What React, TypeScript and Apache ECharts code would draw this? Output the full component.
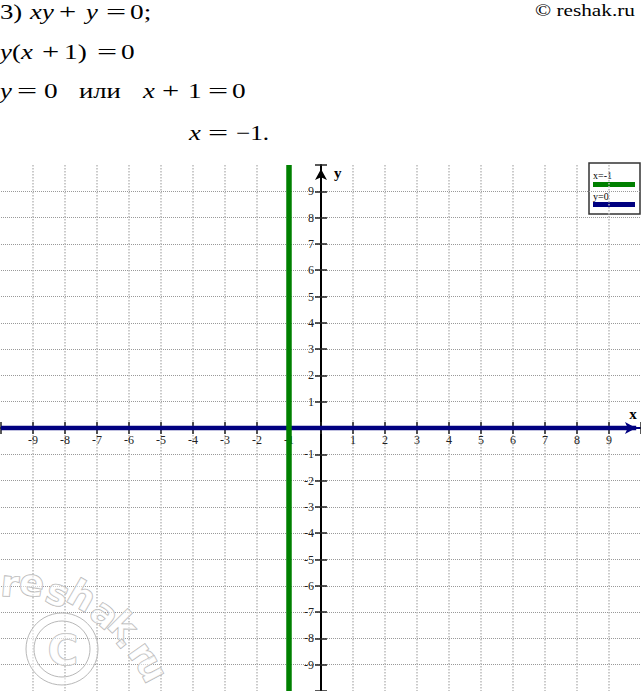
import React, { useEffect, useRef } from 'react';
import * as echarts from 'echarts';

const xLabelValues = [-9, -8, -7, -6, -5, -4, -3, -2, -1, 1, 2, 3, 4, 5, 6, 7, 8, 9];
const yLabelValues = [-9, -8, -7, -6, -5, -4, -3, -2, -1, 1, 2, 3, 4, 5, 6, 7, 8, 9];
const axisMin = -10;
const axisMax = 10;
const lineNames = ['x=-1', 'y=0'];
const lineColors = ['#008000', '#000080'];
const verticalLineX = -1;
const horizontalLineY = 0;
const verticalLinePoints = [[verticalLineX, -10], [verticalLineX, 10]];
const horizontalLinePoints = [[-10, horizontalLineY], [9.85, horizontalLineY]];

// math text: [text, x, centerY, italic, scaleX]
const mathSegments: [string, number, number, boolean, number][] = [
  ['3)', 0, 12, false, 1.27], ['x', 30, 12, true, 1.27], ['y', 42, 12, true, 1.27], ['+', 59, 12, false, 1.45],
  ['y', 86, 12, true, 1.27], ['=', 106, 12, false, 1.7], ['0;', 130, 12, false, 1.3],
  ['y', 0, 52, true, 1.27], ['(', 12, 52, false, 1.27], ['x', 21, 52, true, 1.27], ['+', 42, 52, false, 1.45],
  ['1)', 64, 52, false, 1.3], ['=', 97, 52, false, 1.7], ['0', 121, 52, false, 1.3],
  ['y', 0, 91, true, 1.27], ['=', 17, 91, false, 1.7], ['0', 44, 91, false, 1.3], ['или', 79, 91, false, 1.27],
  ['x', 143, 91, true, 1.27], ['+', 162, 91, false, 1.45], ['1', 188, 91, false, 1.3], ['=', 208, 91, false, 1.7], ['0', 232, 91, false, 1.3],
  ['x', 189, 133, true, 1.27], ['=', 208, 133, false, 1.7], ['−1.', 236, 133, false, 1.2],
];

// watermark letters: [char, cx, cy, rotationDeg]
const watermarkLetters: [string, number, number, number][] = [
  ['r', 10, 584, 5], ['e', 32, 583, 10], ['s', 58, 593, 20], ['h', 82, 596, 30], ['a', 105, 614, 40],
  ['k', 123, 626, 45], ['.', 128, 638, 50], ['r', 142, 653, 55], ['u', 152, 668, 62],
];

const SERIF = 'Liberation Serif';

export default function App() {
  const ref = useRef<HTMLDivElement>(null);
  useEffect(() => {
    if (!ref.current) return;
    const chart = echarts.init(ref.current, undefined, { renderer: 'svg' });

    const graphics: any[] = [];
    mathSegments.forEach(([t, x, y, it, sx]) => {
      const style: any = {
        text: t, fontFamily: SERIF, fontSize: 21,
        fill: '#000', textAlign: 'left', textVerticalAlign: 'middle',
      };
      if (it) style.fontStyle = 'italic';
      graphics.push({ type: 'text', x, y, scaleX: sx, silent: true, style });
    });
    graphics.push({
      type: 'text', x: 535, y: 10, scaleX: 1.25, silent: true,
      style: { text: '© reshak.ru', fontFamily: SERIF, fontSize: 17, fill: '#000', textAlign: 'left', textVerticalAlign: 'middle' },
    });
    // watermark
    watermarkLetters.forEach(([c, x, y, r]) => {
      graphics.push({
        type: 'text', x, y, rotation: (-r * Math.PI) / 180, silent: true, z: 1,
        style: {
          text: c, fontFamily: 'DejaVu Sans', fontWeight: 'bold', fontSize: 37,
          fill: 'rgba(255,255,255,0.55)', stroke: '#b0b0b0', lineWidth: 1,
          textAlign: 'center', textVerticalAlign: 'middle',
        },
      });
    });
    graphics.push({
      type: 'ring', shape: { cx: 62, cy: 649, r: 36, r0: 28 }, silent: true, z: 1,
      style: { fill: 'rgba(255,255,255,0.5)', stroke: '#b8b8b8', lineWidth: 1 },
    });
    graphics.push({
      type: 'text', x: 63, y: 650, silent: true, z: 1,
      style: {
        text: 'C', fontFamily: 'DejaVu Sans', fontWeight: 'bold', fontSize: 42,
        fill: 'rgba(255,255,255,0.5)', stroke: '#b8b8b8', lineWidth: 1, textAlign: 'center', textVerticalAlign: 'middle',
      },
    });
    // legend box
    graphics.push({
      type: 'group', x: 589, y: 163, z: 100,
      children: [
        { type: 'rect', shape: { x: 0, y: 0, width: 51, height: 51 }, style: { fill: '#fff', stroke: '#333', lineWidth: 1.5 } },
        { type: 'text', x: 4, y: 12, style: { text: lineNames[0], fontFamily: SERIF, fontSize: 10, fill: '#000', textVerticalAlign: 'middle' } },
        { type: 'rect', shape: { x: 4, y: 19, width: 42, height: 5 }, style: { fill: lineColors[0] } },
        { type: 'text', x: 4, y: 33, style: { text: lineNames[1], fontFamily: SERIF, fontSize: 10, fill: '#000', textVerticalAlign: 'middle' } },
        { type: 'rect', shape: { x: 4, y: 39, width: 42, height: 5 }, style: { fill: lineColors[1] } },
      ],
    });

    const labelStyle = { fontFamily: SERIF, fontSize: 12, color: '#222' };
    const makeOption = (xMargin: number, yMargin: number): any => ({
      animation: false,
      backgroundColor: '#ffffff',
      grid: { left: 1, right: 0, top: 165, bottom: 0, containLabel: false, outerBoundsMode: 'none' },
      xAxis: [
        {
          type: 'value', position: 'bottom', min: axisMin, max: axisMax, interval: 1,
          name: 'x', nameLocation: 'end', nameGap: -8,
          nameTextStyle: { fontFamily: SERIF, fontWeight: 'bold', fontSize: 15, color: '#000', align: 'center', verticalAlign: 'bottom', padding: [0, 0, 7, 0] },
          axisLine: { show: true, onZero: true, onZeroAxisIndex: 0, symbol: ['none', 'arrow'], symbolSize: [9, 11], symbolOffset: [0, -5], lineStyle: { color: '#000080', width: 2 } },
          axisTick: { show: true, inside: false, length: 6, lineStyle: { color: '#222', width: 1.5 } },
          axisLabel: { ...labelStyle, margin: xMargin, formatter: (v: number) => (xLabelValues.includes(v) ? String(v) : '') },
          splitLine: { show: true, showMinLine: false, showMaxLine: false, lineStyle: { type: 'dotted', color: '#bbbbbb', width: 1.5 } },
        },
        {
          type: 'value', position: 'top', min: axisMin, max: axisMax, interval: 1,
          axisLine: { show: true, onZero: true, onZeroAxisIndex: 0, lineStyle: { color: 'rgba(0,0,0,0)', width: 0 } },
          axisTick: { show: true, inside: false, length: 6, lineStyle: { color: '#222', width: 1.5 } },
          axisLabel: { show: false },
          splitLine: { show: false },
        },
      ],
      yAxis: [
        {
          type: 'value', position: 'left', min: axisMin, max: axisMax, interval: 1,
          name: 'y', nameLocation: 'end', nameGap: -8,
          nameTextStyle: { fontFamily: SERIF, fontWeight: 'bold', fontSize: 15, color: '#000', align: 'left', verticalAlign: 'middle', padding: [0, 0, 0, 13] },
          axisLine: { show: true, onZero: true, onZeroAxisIndex: 0, symbol: ['none', 'arrow'], symbolSize: [9, 11], symbolOffset: [0, -4], lineStyle: { color: '#000', width: 2 } },
          axisTick: { show: true, inside: false, length: 6, lineStyle: { color: '#222', width: 1.5 } },
          axisLabel: { ...labelStyle, margin: yMargin, formatter: (v: number) => (yLabelValues.includes(v) ? String(v) : '') },
          splitLine: { show: true, showMinLine: false, showMaxLine: false, lineStyle: { type: 'dotted', color: '#999999', width: 1 } },
        },
        {
          type: 'value', position: 'right', min: axisMin, max: axisMax, interval: 1,
          axisLine: { show: true, onZero: true, onZeroAxisIndex: 0, lineStyle: { color: 'rgba(0,0,0,0)', width: 0 } },
          axisTick: { show: true, inside: false, length: 6, lineStyle: { color: '#222', width: 1.5 } },
          axisLabel: { show: false },
          splitLine: { show: false },
        },
      ],
      series: [
        {
          name: lineNames[1], type: 'line', xAxisIndex: 0, yAxisIndex: 0, data: horizontalLinePoints,
          showSymbol: false, symbol: 'none', z: 3, lineStyle: { color: lineColors[1], width: 4.5 }, clip: false,
        },
        {
          name: lineNames[0], type: 'line', xAxisIndex: 0, yAxisIndex: 0, data: verticalLinePoints,
          showSymbol: false, symbol: 'none', z: 4, lineStyle: { color: lineColors[0], width: 5.5 }, clip: false,
        },
      ],
      graphic: graphics,
    });
    chart.setOption(makeOption(6, 7));
    // labels of an on-zero axis stay at the grid edge: pull them back to the zero line
    const origin = chart.convertToPixel({ gridIndex: 0 }, [0, 0]) as number[];
    const corner = chart.convertToPixel({ gridIndex: 0 }, [axisMin, axisMin]) as number[];
    if (origin && corner) {
      const xm = 6 - (corner[1] - origin[1]);
      const ym = 7 - (origin[0] - corner[0]);
      chart.setOption(makeOption(xm, ym));
    }
    return () => chart.dispose();
  }, []);
  return <div ref={ref} style={{ position: 'fixed', left: 0, top: 0, width: 641, height: 691, background: '#fff' }} />;
}
